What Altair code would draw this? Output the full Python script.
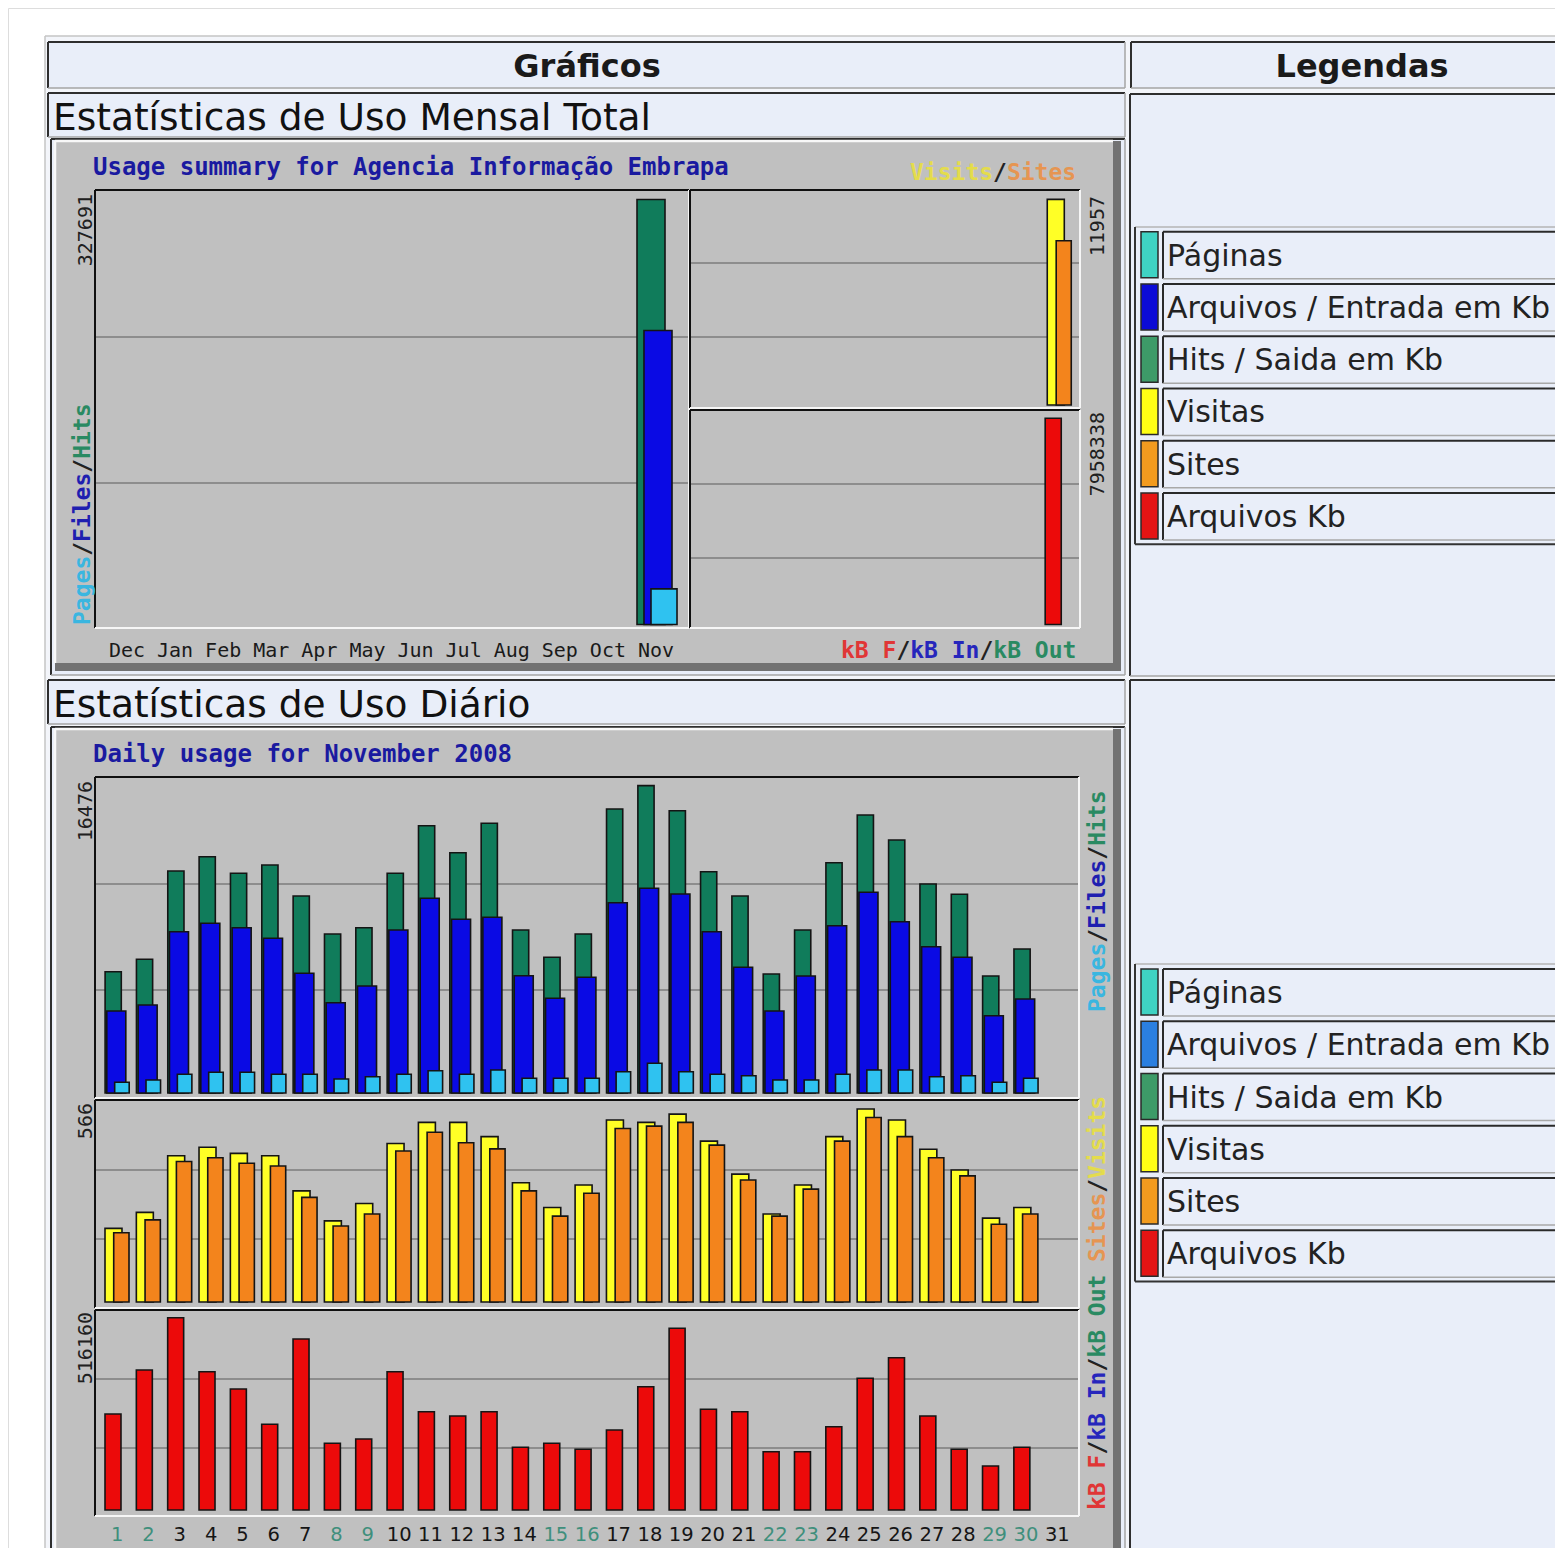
import datetime
import altair as alt
import pandas as pd

# ---------------- data ----------------
MONTHS = ["Dec", "Jan", "Feb", "Mar", "Apr", "May", "Jun", "Jul", "Aug", "Sep", "Oct", "Nov"]
M_HITS = [0, 0, 0, 0, 0, 0, 0, 0, 0, 0, 0, 327691]
M_FILES = [0, 0, 0, 0, 0, 0, 0, 0, 0, 0, 0, 226700]
M_PAGES = [0, 0, 0, 0, 0, 0, 0, 0, 0, 0, 0, 27450]
M_VISITS = [0, 0, 0, 0, 0, 0, 0, 0, 0, 0, 0, 11957]
M_SITES = [0, 0, 0, 0, 0, 0, 0, 0, 0, 0, 0, 9550]
M_KBF = [0, 0, 0, 0, 0, 0, 0, 0, 0, 0, 0, 7958338]

DAYS = list(range(1, 32))
D_HITS = [6502, 7166, 11899, 12666, 11776, 12221, 10559, 8522, 8860, 11776, 14327, 12880,
          14456, 8737, 7274, 8522, 15222, 16476, 15131, 11862, 10559, 6378, 8737, 12344,
          14901, 13561, 11202, 10650, 6271, 7718, 0]
D_FILES = [4395, 4717, 8646, 9096, 8860, 8292, 6416, 4840, 5735, 8737, 10436, 9310,
           9418, 6287, 5076, 6202, 10200, 10972, 10666, 8646, 6738, 4395, 6271, 8967,
           10758, 9182, 7842, 7274, 4143, 5038, 0]
D_PAGES = [573, 697, 1002, 1110, 1110, 1002, 1002, 750, 874, 1002, 1195, 1002,
           1233, 788, 788, 788, 1142, 1592, 1142, 1002, 927, 697, 697, 1002,
           1233, 1233, 874, 927, 573, 788, 0]
D_VISITS = [216, 263, 429, 454, 436, 429, 326, 238, 289, 465, 527, 527,
            485, 350, 277, 343, 534, 527, 551, 472, 375, 258, 343, 485,
            566, 534, 448, 387, 246, 277, 0]
D_SITES = [203, 241, 412, 423, 407, 399, 307, 223, 258, 443, 498, 467,
           449, 326, 252, 319, 509, 516, 527, 460, 358, 252, 331, 472,
           541, 485, 423, 370, 228, 258, 0]
D_KBF = [257700, 375800, 516160, 371200, 324800, 230000, 459000, 179000, 190600, 371200,
         263800, 252300, 263800, 168300, 179000, 162900, 214700, 331000, 487700, 270300,
         263800, 156500, 156500, 223600, 353500, 408800, 252300, 162900, 118100, 168300, 0]

LEGEND_LABELS = ["Páginas", "Arquivos / Entrada em Kb", "Hits / Saida em Kb",
                 "Visitas", "Sites", "Arquivos Kb"]

# ---------------- styles ----------------
OX, OY = 8, 8
MONO = "DejaVu Sans Mono"
SANS = "DejaVu Sans"
CELL = "#e9eef9"
C_HITS, C_FILES, C_PAGES = "#107c5b", "#0a0ae4", "#2fc2f0"
C_VISITS, C_SITES, C_KB = "#ffff26", "#f3841c", "#ec0a0a"
T_PAGES, T_FILES, T_HITS = "#3ab6e0", "#1f1fb0", "#2a8a62"
T_VISITS, T_SITES, T_KBF, T_KBIN, T_KBOUT = "#e4dc4c", "#e69552", "#e03636", "#2626bc", "#2a8a62"
TITLE_BLUE = "#1a1aa0"


def X(v):
    return v - OX


def Y(v):
    return v - OY


def one():
    return alt.Chart(alt.Data(values=[{"a": 1}]))


def rect(x1, y1, x2, y2, fill, stroke=None, sw=0.0):
    kw = dict(fill=fill, opacity=1)
    if stroke:
        kw.update(stroke=stroke, strokeWidth=sw)
    else:
        kw.update(strokeWidth=0)
    return one().mark_rect(**kw).encode(
        x=alt.value(X(x1)), x2=alt.value(X(x2)), y=alt.value(Y(y1)), y2=alt.value(Y(y2)))


def line(x1, y1, x2, y2, color, w):
    return one().mark_rule(color=color, strokeWidth=w).encode(
        x=alt.value(X(x1)), x2=alt.value(X(x2)), y=alt.value(Y(y1)), y2=alt.value(Y(y2)))


def text(s, x, y, size, color="#111", font=SANS, weight="normal", align="left",
         baseline="alphabetic", angle=0):
    kw = dict(text=s, fontSize=size, color=color, font=font, fontWeight=weight,
              align=align, baseline=baseline)
    if angle:
        kw["angle"] = angle
    return one().mark_text(**kw).encode(x=alt.value(X(x)), y=alt.value(Y(y)))


def cell(x1, y1, x2, y2, fill=CELL):
    return [rect(x1, y1, x2, y2, fill),
            line(x1, y1, x2, y1, "#2e2e2e", 2), line(x1, y1, x1, y2, "#2e2e2e", 2),
            line(x1, y2, x2, y2, "#a4a4a4", 1.5), line(x2, y1, x2, y2, "#a4a4a4", 1.5)]


def bevel(x1, y1, x2, y2):
    return [rect(x1, y1, x2, y2, "#727272"),
            rect(x1, y1, x2 - 8, y2 - 8, "#c0c0c0"),
            line(x1, y1, x2 - 8, y1, "#f8f8f8", 2.5),
            line(x1, y1, x1, y2 - 8, "#f8f8f8", 2.5)]


def panel(x1, y1, x2, y2, grids):
    out = [line(x1, g, x2, g, "#7c7c7c", 1.5) for g in grids]
    out += [line(x1, y1, x2, y1, "#101010", 2), line(x1, y1, x1, y2, "#101010", 2),
            line(x1, y2, x2, y2, "#f6f6f6", 2), line(x2, y1, x2, y2, "#f6f6f6", 2)]
    return out


def qs(dom, rng):
    return alt.Scale(domain=dom, range=rng, nice=False, zero=False)


def bars(df, field, xs, ys, lo, hi, color):
    return (alt.Chart(df)
            .transform_filter(f"datum.{field} > 0")
            .transform_calculate(xa=f"datum.idx + ({lo})", xb=f"datum.idx + ({hi})")
            .mark_rect(fill=color, stroke="#141414", strokeWidth=1.6, opacity=1)
            .encode(x=alt.X("xa:Q", scale=xs, axis=None), x2="xb:Q",
                    y=alt.Y(f"{field}:Q", scale=ys, axis=None), y2=alt.datum(0)))


def hlabel(pieces, x_start, y, size=23):
    cw = 0.602 * size
    out, off = [], 0
    for s, col in pieces:
        out.append(text(s, x_start + off * cw, y, size, col, MONO, "bold"))
        off += len(s)
    return out


def vlabel(pieces, x, y_start, size=23):
    cw = 0.602 * size
    out, off = [], 0
    for s, col in pieces:
        out.append(text(s, x, y_start - off * cw, size, col, MONO, "bold", "left", "middle", 270))
        off += len(s)
    return out


def vnum(s, x, y_top):
    return text(s, x, y_top, 20, "#202020", MONO, "normal", "right", "middle", 270)


def legend(y_top, y_first, colors):
    step = 52.25
    bottom = y_first + 6 * step - 1
    out = [line(1135, y_top, 1570, y_top, "#b4b4b4", 1.5),
           line(1135, y_top, 1135, bottom, "#333333", 2),
           line(1135, bottom, 1570, bottom, "#333333", 2)]
    for i, (lab, col) in enumerate(zip(LEGEND_LABELS, colors)):
        y0 = y_first + i * step
        out.append(rect(1141, y0, 1158, y0 + 46, col, "#2a2a2a", 1.5))
        out += [line(1163, y0, 1570, y0, "#2a2a2a", 2),
                line(1163, y0, 1163, y0 + 47, "#2a2a2a", 2),
                line(1163, y0 + 47, 1570, y0 + 47, "#a8a8a8", 1.5)]
        out.append(text(lab, 1167, y0 + 34, 30, "#222222"))
    return out


# ---------------- tables ----------------
mdf = pd.DataFrame({"idx": list(range(12)), "month": MONTHS, "hits": M_HITS, "files": M_FILES,
                    "pages": M_PAGES, "visits": M_VISITS, "sites": M_SITES, "kbf": M_KBF})
ddf = pd.DataFrame({"idx": DAYS, "hits": D_HITS, "files": D_FILES, "pages": D_PAGES,
                    "visits": D_VISITS, "sites": D_SITES, "kbf": D_KBF})
first = datetime.date(2008, 11, 1)
ddf["weekend"] = [(first + datetime.timedelta(days=d - 1)).weekday() >= 5 for d in DAYS]

layers = []

# page table
layers.append(rect(45, 36, 1570, 1570, "#f3f5fa"))
layers.append(line(45, 36, 1570, 36, "#c4c4c4", 1.5))
layers.append(line(45, 36, 45, 1570, "#c4c4c4", 1.5))
for c in [(48, 42, 1125, 88), (1131, 42, 1570, 88), (48, 93, 1125, 137), (51, 139, 1125, 675),
          (1130, 94, 1570, 676), (48, 680, 1125, 724), (51, 727, 1125, 1570),
          (1130, 680, 1570, 1570)]:
    layers += cell(*c)

layers.append(text("Gráficos", 587, 77, 32, "#1a1a1a", SANS, "bold", "center"))
layers.append(text("Legendas", 1362, 77, 32, "#1a1a1a", SANS, "bold", "center"))
layers.append(text("Estatísticas de Uso Mensal Total", 53, 130, 37.5, "#111111"))
layers.append(text("Estatísticas de Uso Diário", 53, 717, 37.5, "#111111"))

layers += legend(227, 231.7, ["#3fd2c3", "#0b0bd6", "#3d9b68", "#ffff14", "#f29b1f", "#e41414"])
layers += legend(964, 969, ["#3fd2c3", "#2b7fe0", "#3d9b68", "#ffff14", "#f29b1f", "#e41414"])

# ---------------- monthly image ----------------
layers += bevel(55, 141, 1121, 671)
layers += panel(95, 190, 689, 628, [337, 483])
layers += panel(690, 190, 1080, 408, [263, 337])
layers += panel(690, 410, 1080, 628, [484, 558])

MX = qs([0, 11], [X(127), X(656)])
MY = qs([0, 335017], [Y(624.5), Y(190)])
RX = qs([0, 11], [X(706.6), X(1063)])
RY1 = qs([0, 12388], [Y(405), Y(192)])
RY2 = qs([0, 8201440], [Y(624.5), Y(412)])

layers.append(bars(mdf, "hits", MX, MY, -0.395, 0.187, C_HITS))
layers.append(bars(mdf, "files", MX, MY, -0.25, 0.333, C_FILES))
layers.append(bars(mdf, "pages", MX, MY, -0.104, 0.437, C_PAGES))
layers.append(bars(mdf, "visits", RX, RY1, -0.486, 0.04, C_VISITS))
layers.append(bars(mdf, "sites", RX, RY1, -0.21, 0.255, C_SITES))
layers.append(bars(mdf, "kbf", RX, RY2, -0.55, -0.054, C_KB))

layers.append(alt.Chart(mdf).mark_text(font=MONO, fontSize=20, color="#1a1a1a",
                                       align="center", baseline="alphabetic")
              .encode(x=alt.X("idx:Q", scale=MX, axis=None), y=alt.value(Y(657)),
                      text="month:N"))

layers.append(text("Usage summary for Agencia Informação Embrapa", 93, 175, 24,
                   TITLE_BLUE, MONO, "bold"))
layers += hlabel([("Visits", T_VISITS), ("/", "#222222"), ("Sites", T_SITES)], 910, 180)
layers += hlabel([("kB F", T_KBF), ("/", "#222222"), ("kB In", T_KBIN), ("/", "#222222"),
                  ("kB Out", T_KBOUT)], 841, 658)
layers += vlabel([("Pages", T_PAGES), ("/", "#222222"), ("Files", T_FILES), ("/", "#222222"),
                  ("Hits", T_HITS)], 83, 625)
layers.append(vnum(str(max(M_HITS)), 86, 194))
layers.append(vnum(str(max(M_VISITS)), 1098, 196))
layers.append(vnum(str(max(M_KBF)), 1098, 412))

# ---------------- daily image ----------------
layers += bevel(55, 729, 1121, 1558)
layers += panel(95, 777, 1079, 1098, [884, 990])
layers += panel(95, 1100, 1079, 1308, [1170, 1239])
layers += panel(95, 1310, 1079, 1516, [1379, 1448])

DX = qs([1, 31], [X(117.1), X(1057.3)])
DY1 = qs([0, 16884], [Y(1093), Y(778)])
DY2 = qs([0, 583.7], [Y(1302), Y(1103)])
DY3 = qs([0, 528748], [Y(1510), Y(1313)])

layers.append(bars(ddf, "hits", DX, DY1, -0.383, 0.134, C_HITS))
layers.append(bars(ddf, "files", DX, DY1, -0.329, 0.278, C_FILES))
layers.append(bars(ddf, "pages", DX, DY1, -0.077, 0.386, C_PAGES))
layers.append(bars(ddf, "visits", DX, DY2, -0.386, 0.156, C_VISITS))
layers.append(bars(ddf, "sites", DX, DY2, -0.108, 0.38, C_SITES))
layers.append(bars(ddf, "kbf", DX, DY3, -0.386, 0.124, C_KB))

for flag, col in [(True, "#3f8f7c"), (False, "#151515")]:
    layers.append(alt.Chart(ddf).transform_filter(f"datum.weekend == {str(flag).lower()}")
                  .mark_text(font=SANS, fontSize=19.5, color=col, align="center",
                             baseline="alphabetic")
                  .encode(x=alt.X("idx:Q", scale=DX, axis=None), y=alt.value(Y(1541)),
                          text=alt.Text("idx:Q", format="d")))

layers.append(text("Daily usage for November 2008", 93, 762, 24, TITLE_BLUE, MONO, "bold"))
layers.append(vnum(str(max(D_HITS)), 86, 781))
layers.append(vnum(str(max(D_VISITS)), 86, 1103))
layers.append(vnum(str(max(D_KBF)), 86, 1312))
layers += vlabel([("Pages", T_PAGES), ("/", "#222222"), ("Files", T_FILES), ("/", "#222222"),
                  ("Hits", T_HITS)], 1098, 1012)
layers += vlabel([("Sites", T_SITES), ("/", "#222222"), ("Visits", T_VISITS)], 1098, 1262)
layers += vlabel([("kB F", T_KBF), ("/", "#222222"), ("kB In", T_KBIN), ("/", "#222222"),
                  ("kB Out", T_KBOUT)], 1098, 1510)

chart = (alt.layer(*layers)
         .resolve_scale(x="independent", y="independent")
         .properties(width=1547, height=1540, padding=0,
                     autosize=alt.AutoSizeParams(type="none"))
         .configure_view(stroke=None)
         .configure(background="white"))

chart.save("out.html", embed_options={"renderer": "svg", "actions": False})
